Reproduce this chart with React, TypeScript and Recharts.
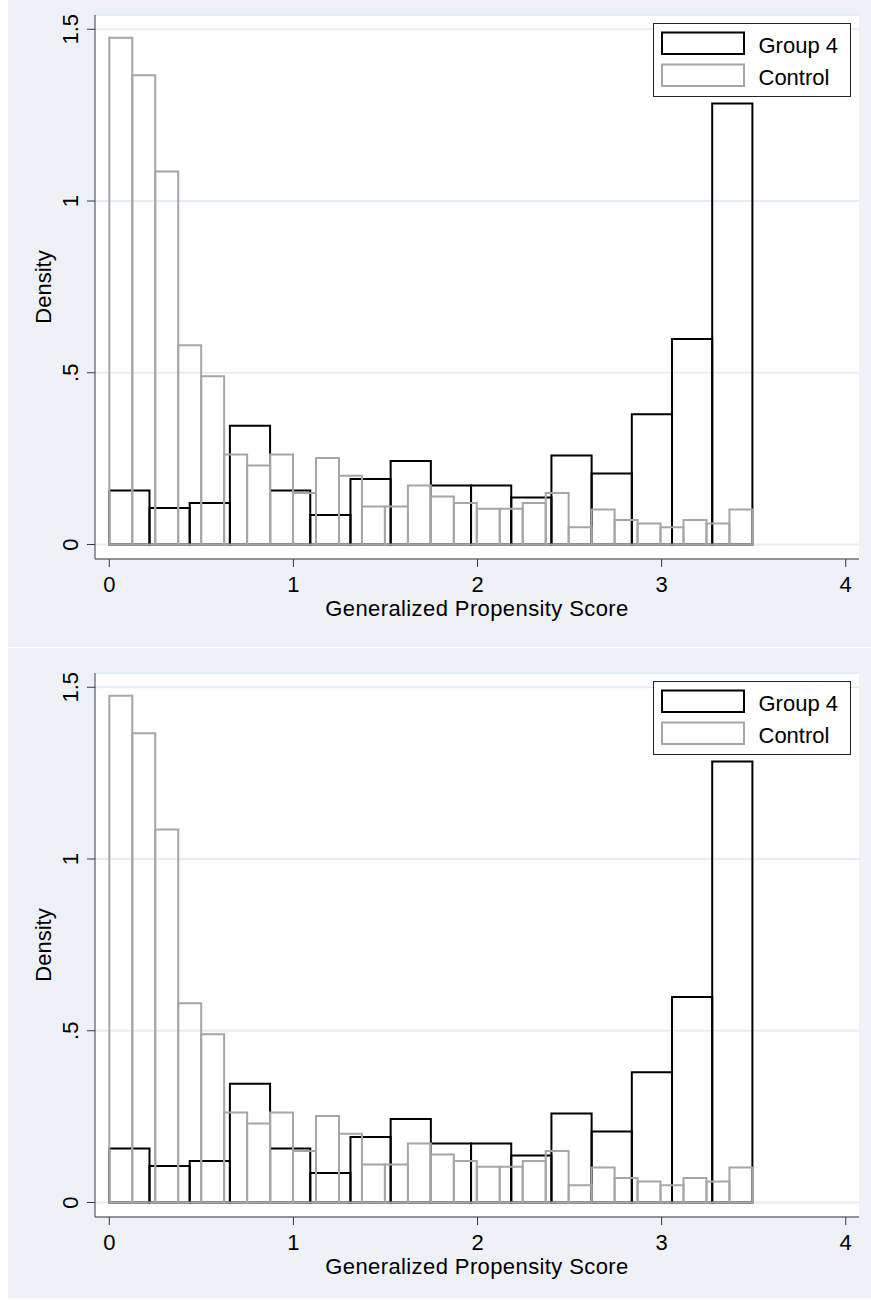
import React from 'react';
import { ComposedChart, XAxis, YAxis, CartesianGrid, ReferenceArea, Label } from 'recharts';

// Histogram range (bins start at histMin and end at histMax)
const histMin = 0;
const histMax = 3.493;

// Density per bin
const group4Density = [
  0.157, 0.106, 0.121, 0.346, 0.157, 0.086, 0.191, 0.243,
  0.172, 0.172, 0.137, 0.259, 0.207, 0.379, 0.598, 1.284,
];
const controlDensity = [
  1.475, 1.366, 1.086, 0.58, 0.49, 0.262, 0.23, 0.262, 0.15, 0.252,
  0.2, 0.111, 0.111, 0.172, 0.14, 0.121, 0.104, 0.104, 0.121, 0.15,
  0.05, 0.102, 0.071, 0.061, 0.05, 0.071, 0.061, 0.102,
];

const xTicks = [0, 1, 2, 3, 4];
const yTicks = [0, 0.5, 1, 1.5];
const yTickLabels = ['0', '.5', '1', '1.5'];
const seriesNames = ['Group 4', 'Control'];
const xTitle = 'Generalized Propensity Score';
const yTitle = 'Density';

const FONT = '"Liberation Sans", Arial, Helvetica, sans-serif';
const BG = '#eef1f6';
const GRID = '#e8edf3';
const AXIS = '#3a3a3a';
const G4 = '#000000';
const CTRL = '#a6a6a6';

type Bin = { x0: number; x1: number; v: number };
function toBins(values: number[]): Bin[] {
  const w = (histMax - histMin) / values.length;
  return values.map((v, i) => ({ x0: histMin + i * w, x1: histMin + (i + 1) * w, v }));
}

const YTick = (props: any) => {
  const { x, y, payload } = props;
  const idx = yTicks.indexOf(payload.value);
  const label = idx >= 0 ? yTickLabels[idx] : String(payload.value);
  return (
    <text
      x={x}
      y={y}
      transform={`rotate(-90 ${x} ${y})`}
      textAnchor="middle"
      fontSize={22}
      fontFamily={FONT}
      fill="#000"
    >
      {label}
    </text>
  );
};

const XTitle = (props: any) => {
  const vb = props.viewBox || {};
  return (
    <text
      x={vb.x + vb.width / 2}
      y={vb.y + 57}
      textAnchor="middle"
      fontSize={22}
      letterSpacing={0.4}
      fontFamily={FONT}
      fill="#000"
    >
      {xTitle}
    </text>
  );
};

const YTitle = (props: any) => {
  const vb = props.viewBox || {};
  const cx = 43;
  const cy = vb.y + vb.height / 2;
  return (
    <text
      x={cx}
      y={cy}
      transform={`rotate(-90 ${cx} ${cy})`}
      textAnchor="middle"
      fontSize={22}
      fontFamily={FONT}
      fill="#000"
    >
      {yTitle}
    </text>
  );
};

function LegendBox() {
  return (
    <svg
      width={199}
      height={75}
      style={{ position: 'absolute', left: 645, top: 33 }}
    >
      <rect x={0.5} y={0.5} width={197} height={73} fill="#fff" stroke="#222" strokeWidth={1} />
      <rect x={9} y={9.5} width={82} height={21.5} fill="#fff" stroke={G4} strokeWidth={2} />
      <text x={105.5} y={30} fontSize={22} fontFamily={FONT} fill="#000">
        {seriesNames[0]}
      </text>
      <rect x={9} y={41.5} width={82} height={21.5} fill="#fff" stroke={CTRL} strokeWidth={2} />
      <text x={105.5} y={62} fontSize={22} fontFamily={FONT} fill="#000">
        {seriesNames[1]}
      </text>
    </svg>
  );
}

function Panel({ height }: { height: number }) {
  const g4 = toBins(group4Density);
  const ct = toBins(controlDensity);
  const data = ct.map((b) => ({ x: (b.x0 + b.x1) / 2, control: b.v }));
  const xAxisHeight = height - 25 - 544;
  return (
    <div style={{ position: 'relative', width: 863, height, background: BG }}>
      <ComposedChart
        width={863}
        height={height}
        data={data}
        margin={{ top: 25, right: 12, bottom: 0, left: 0 }}
      >
        <CartesianGrid horizontal vertical={false} fill="#ffffff" stroke={GRID} strokeWidth={2} />
        <XAxis
          type="number"
          dataKey="x"
          domain={[-0.0777, 4.072]}
          ticks={xTicks}
          interval={0}
          allowDataOverflow
          height={xAxisHeight}
          tickSize={8}
          tickMargin={9}
          stroke={AXIS}
          axisLine={{ stroke: AXIS, strokeWidth: 1 }}
          tickLine={{ stroke: AXIS }}
          tick={{ fill: '#000', fontSize: 22, fontFamily: FONT }}
        >
          <Label content={XTitle} />
        </XAxis>
        <YAxis
          type="number"
          domain={[-0.0422, 1.5415]}
          ticks={yTicks}
          interval={0}
          allowDataOverflow
          width={87}
          tickSize={8}
          tickMargin={9}
          stroke={AXIS}
          axisLine={{ stroke: AXIS, strokeWidth: 1 }}
          tickLine={{ stroke: AXIS }}
          tick={<YTick />}
        >
          <Label content={YTitle} />
        </YAxis>
        {g4.map((b, i) => (
          <ReferenceArea
            key={'g4-' + i}
            x1={b.x0}
            x2={b.x1}
            y1={0}
            y2={b.v}
            fill="none"
            fillOpacity={0}
            stroke={G4}
            strokeWidth={2}
            strokeOpacity={1}
            ifOverflow="visible"
          />
        ))}
        {ct.map((b, i) => (
          <ReferenceArea
            key={'ct-' + i}
            x1={b.x0}
            x2={b.x1}
            y1={0}
            y2={b.v}
            fill="none"
            fillOpacity={0}
            stroke={CTRL}
            strokeWidth={2}
            strokeOpacity={1}
            ifOverflow="visible"
          />
        ))}
      </ComposedChart>
      <LegendBox />
    </div>
  );
}

export default function App() {
  return (
    <>
      <style>{'html, body { margin: 0; padding: 0; overflow: hidden; }'}</style>
      <div
        style={{
          position: 'absolute',
          left: 8,
          top: -10,
          width: 863,
          height: 1308,
          fontFamily: FONT,
        }}
      >
        <Panel height={657} />
        <div style={{ height: 1 }} />
        <Panel height={650} />
      </div>
    </>
  );
}
